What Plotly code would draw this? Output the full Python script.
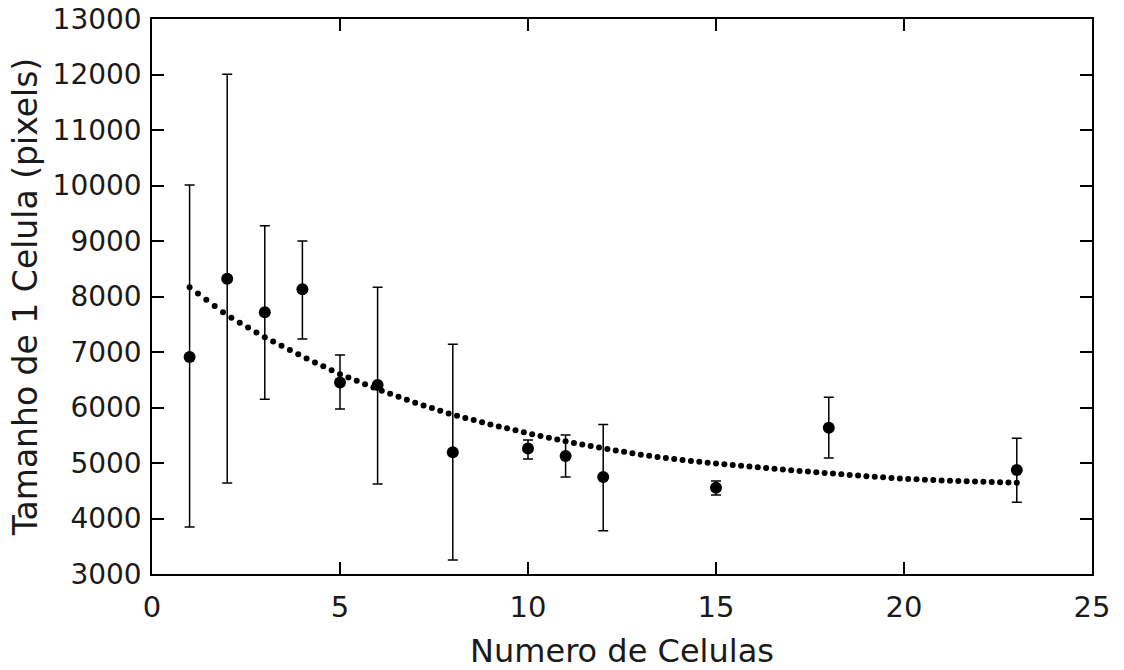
import numpy as np
import plotly.graph_objects as go

n_cells = [1, 2, 3, 4, 5, 6, 8, 10, 11, 12, 15, 18, 23]
cell_size = [6910, 8320, 7715, 8130, 6450, 6405, 5195, 5262, 5126, 4748, 4556, 5637, 4874]
err_upper = [10010, 12005, 9275, 9000, 6946, 8165, 7140, 5414, 5505, 5695, 4676, 6185, 5446]
err_lower = [3847, 4640, 6150, 7234, 5975, 4622, 3252, 5070, 4748, 3781, 4423, 5092, 4293]

fit_x_start = 1
fit_x_end = 23
fit_y = [
    8166, 8054, 7941, 7829, 7716, 7616, 7528, 7441, 7353, 7265,
    7188, 7112, 7035, 6958, 6884, 6813, 6742, 6671, 6600, 6540,
    6480, 6420, 6360, 6303, 6248, 6194, 6139, 6085, 6037, 5989,
    5942, 5894, 5851, 5812, 5773, 5734, 5695, 5659, 5624, 5588,
    5553, 5519, 5487, 5454, 5422, 5390, 5362, 5334, 5307, 5279,
    5252, 5227, 5201, 5176, 5150, 5130, 5110, 5090, 5070, 5052,
    5037, 5021, 5006, 4990, 4977, 4963, 4950, 4937, 4923, 4910,
    4897, 4883, 4870, 4858, 4846, 4833, 4821, 4809, 4797, 4786,
    4774, 4762, 4752, 4741, 4731, 4720, 4712, 4705, 4698, 4692,
    4685, 4680, 4675, 4670, 4665, 4661, 4657, 4653, 4649, 4645,
]
fit_x = np.linspace(fit_x_start, fit_x_end, len(fit_y))

x_ticks = [0, 5, 10, 15, 20, 25]
y_ticks = list(range(3000, 13001, 1000))

plus = [u - v for u, v in zip(err_upper, cell_size)]
minus = [v - l for v, l in zip(cell_size, err_lower)]

fig = go.Figure()
fig.add_trace(go.Scatter(
    x=fit_x, y=fit_y, mode="markers",
    marker=dict(size=6, color="black", line=dict(width=0)),
    showlegend=False, hoverinfo="skip",
))
fig.add_trace(go.Scatter(
    x=n_cells, y=cell_size, mode="markers",
    marker=dict(size=12, color="black", line=dict(width=0)),
    error_y=dict(type="data", symmetric=False, array=plus, arrayminus=minus,
                 color="black", thickness=1.5, width=5),
    showlegend=False,
))

axis_common = dict(
    showline=True, linecolor="black", linewidth=1.5, mirror="ticks",
    ticks="inside", ticklen=12, tickwidth=1.5, tickcolor="black",
    showgrid=False, zeroline=False, ticklabeloverflow="allow",
)

fig.update_layout(
    width=1124, height=670,
    margin=dict(l=152, r=32, t=19, b=96, autoexpand=False),
    paper_bgcolor="white", plot_bgcolor="white",
    font=dict(family="DejaVu Sans", color="#1a1a1a"),
    xaxis=dict(
        range=[0, 25], tickvals=x_ticks, ticktext=[str(t) for t in x_ticks],
        tickfont=dict(size=29), ticklabelstandoff=6,
        title=dict(text="Numero de Celulas", font=dict(size=32), standoff=36),
        automargin=False,
        **axis_common,
    ),
    yaxis=dict(
        range=[3000, 13000], tickvals=y_ticks, ticktext=[str(t) for t in y_ticks],
        tickfont=dict(size=28), ticklabelstandoff=3,
        title=dict(text="Tamanho de 1 Celula (pixels)", font=dict(size=33), standoff=5),
        automargin=False,
        **axis_common,
    ),
)

fig.write_html(
    "out.html",
    config={"displayModeBar": False},
    post_script="document.body.style.margin='0';document.body.style.overflow='hidden';",
)
